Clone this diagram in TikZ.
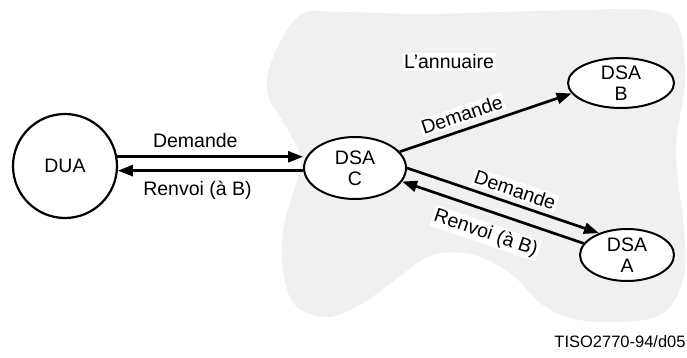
\documentclass[tikz,border=0pt]{standalone}
\usepackage{fontspec}
\setmainfont{Liberation Sans}
\usetikzlibrary{arrows.meta,shapes.geometric}
\begin{document}
\begin{tikzpicture}[x=1pt,y=-1pt,
  txt/.style={font=\fontsize{19.5}{21}\selectfont},
  dsa/.style={txt, draw, line width=2pt, ellipse, align=center, inner sep=0pt, fill=white},
  dua/.style={txt, draw, line width=2.2pt, circle, minimum size=104pt, inner sep=0pt, fill=white},
  arr/.style={line width=2.7pt, -{Triangle[length=15pt,width=11pt]}},
  lbl/.style={txt, fill=white, inner sep=1.5pt}]
\useasboundingbox (0,0) rectangle (687,358);
\fill[black!6] plot[smooth cycle, tension=0.6] coordinates {
  (272,60) (300,15) (340,12) (420,14) (500,12) (580,10) (650,10) (678,25)
  (685,80) (676,150) (684,230) (683,280) (660,315) (610,322) (570,318)
  (540,303) (510,273) (470,254) (430,256) (395,280) (360,305) (327,317)
  (295,305) (283,270) (284,225) (297,180) (300,155) (285,125) (268,95)};
\node[dua] (DUA) at (65,166) {DUA};
\node[dsa, minimum width=102pt, minimum height=62pt] (C) at (355,168) {DSA\\C};
\node[dsa, minimum width=106pt, minimum height=50pt] (B) at (621,83) {DSA\\B};
\node[dsa, minimum width=94pt, minimum height=52pt] (A) at (627,255) {DSA\\A};
\node[lbl] (ann) at (449,62) {L'annuaire};
\draw[arr] (DUA.10) -- node[txt, pos=0.42, above=4pt] {Demande} (DUA.10 -| C.west);
\draw[arr] (C.west |- DUA.-5) -- node[txt, pos=0.57, below=6pt] {Renvoi (à B)} (DUA.-5);
\draw[arr] (C.20) -- node[lbl, pos=0.39, sloped, above=5pt] {Demande} (B.192);
\draw[arr] (C.0) -- node[lbl, pos=0.54, sloped, above=4pt] {Demande} (A.142);
\draw[arr] (A.165) -- node[lbl, pos=0.5, sloped, below=10pt] {Renvoi (à B)} (C.-16);
\node[font=\fontsize{16.5}{18}\selectfont] (ref) at (620,342) {TISO2770-94/d05};
\end{tikzpicture}
\end{document}
